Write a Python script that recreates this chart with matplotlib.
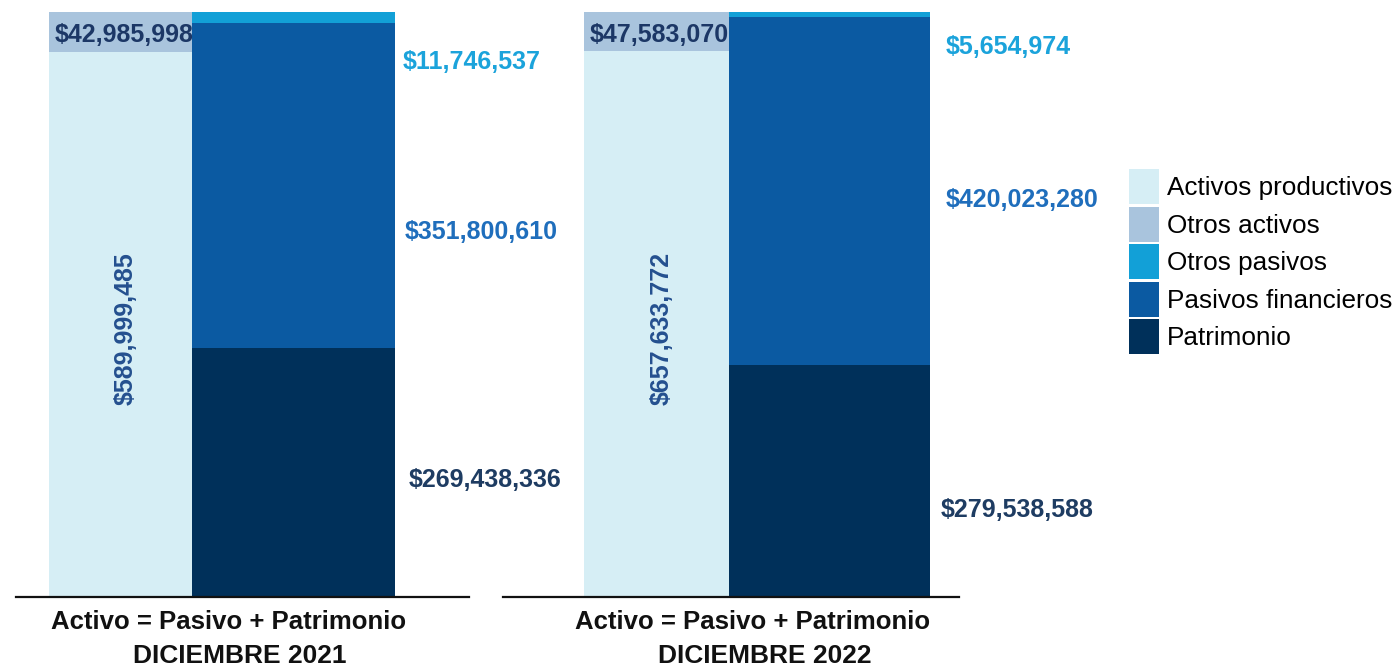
import matplotlib
matplotlib.use("Agg")
import matplotlib.pyplot as plt
from matplotlib.patches import Patch

# ---- data ----
periods = ["DICIEMBRE 2021", "DICIEMBRE 2022"]
activos_productivos = [589999485, 657633772]
otros_activos = [42985998, 47583070]
otros_pasivos = [11746537, 5654974]
pasivos_financieros = [351800610, 420023280]
patrimonio = [269438336, 279538588]
series_names = ["Activos productivos", "Otros activos", "Otros pasivos",
                "Pasivos financieros", "Patrimonio"]
xlabel_top = "Activo = Pasivo + Patrimonio"

# ---- style ----
c_ap = "#D6EEF5"
c_oa = "#A9C4DD"
c_op = "#12A0D7"
c_pf = "#0B5AA2"
c_pt = "#00305A"
t_ap = "#24508F"
t_oa = "#1C3766"
t_op = "#1BA3DB"
t_pf = "#1F6EBC"
t_pt = "#1E3C62"

bold_family = ["Liberation Sans", "DejaVu Sans"]
plain = ["Liberation Sans", "DejaVu Sans"]

W, H = 1397, 669
fig = plt.figure(figsize=(W / 100, H / 100), dpi=100)

# axes pixel layout: (left, right) in px, bars (left, width) in axis px units
panels = [
    dict(ax=(16, 469), act=(33, 143), pas=(176, 203), xl=(229, 240),
         lab_op=0.915, lab_pf=0.624, lab_pt=0.20, lab_x=(403, 405, 409)),
    dict(ax=(503, 959), act=(81, 145), pas=(226, 201), xl=(753, 765),
         lab_op=0.940, lab_pf=0.679, lab_pt=0.149, lab_x=(946, 946, 941)),
]
y_top, y_base = 12, 597
FS = 18

for i, p in enumerate(panels):
    l, r = p["ax"]
    ax = fig.add_axes([l / W, (H - y_base) / H, (r - l) / W, (y_base - y_top) / H])
    ax.patch.set_visible(False)
    total = activos_productivos[i] + otros_activos[i]
    ax.set_xlim(0, r - l)
    ax.set_ylim(0, total)
    ax_l, ax_w = p["act"]
    ps_l, ps_w = p["pas"]
    # activo bar
    ax.bar(ax_l, activos_productivos[i], width=ax_w, align="edge", color=c_ap)
    ax.bar(ax_l, otros_activos[i], bottom=activos_productivos[i], width=ax_w,
           align="edge", color=c_oa)
    # pasivo + patrimonio bar
    ax.bar(ps_l, patrimonio[i], width=ps_w, align="edge", color=c_pt)
    ax.bar(ps_l, pasivos_financieros[i], bottom=patrimonio[i], width=ps_w,
           align="edge", color=c_pf)
    ax.bar(ps_l, otros_pasivos[i], bottom=patrimonio[i] + pasivos_financieros[i],
           width=ps_w, align="edge", color=c_op)

    for s in ["top", "left", "right"]:
        ax.spines[s].set_visible(False)
    ax.spines["bottom"].set_linewidth(1.6)
    ax.spines["bottom"].set_color("#111111")
    ax.set_yticks([])
    ax.set_xticks([])

    # category labels under the axis (two centred lines)
    tr = ax.get_xaxis_transform()
    ax.text(p["xl"][0] - l, -25 / 585, xlabel_top, transform=tr, ha="center",
            va="center", family=bold_family, fontweight="bold", fontsize=18.5,
            color="#111111", clip_on=False)
    ax.text(p["xl"][1] - l, -59 / 585, periods[i], transform=tr, ha="center",
            va="center", family=bold_family, fontweight="bold", fontsize=19,
            color="#111111", clip_on=False)

    fmt = lambda v: "${:,}".format(v)
    # value labels
    ax.text(ax_l + ax_w / 2 + 5, activos_productivos[i] / 2 * 0.985, fmt(activos_productivos[i]),
            rotation=90, ha="center", va="center", color=t_ap, family=bold_family,
            fontweight="bold", fontsize=FS)
    ax.text(ax_l + 6, activos_productivos[i] + otros_activos[i] / 2 * 0.85,
            fmt(otros_activos[i]), ha="left", va="center", color=t_oa,
            family=bold_family, fontweight="bold", fontsize=FS)
    for val, frac, col, xpx in [(otros_pasivos[i], p["lab_op"], t_op, p["lab_x"][0]),
                                (pasivos_financieros[i], p["lab_pf"], t_pf, p["lab_x"][1]),
                                (patrimonio[i], p["lab_pt"], t_pt, p["lab_x"][2])]:
        ax.text(xpx - l, frac * total, fmt(val),
                ha="left", va="center", color=col, family=bold_family,
                fontweight="bold", fontsize=FS, clip_on=False)

handles = [Patch(facecolor=c, edgecolor="none") for c in [c_ap, c_oa, c_op, c_pf, c_pt]]
fig.legend(handles, series_names, loc="upper left",
           bbox_to_anchor=(1129 / W, 1 - 169 / H), frameon=False,
           prop=dict(family=plain, size=18.8), handlelength=1.15, handleheight=1.71,
           handletextpad=0.3, labelspacing=0.08, borderaxespad=0,
           borderpad=0)

fig.savefig("out.png", dpi=100)
